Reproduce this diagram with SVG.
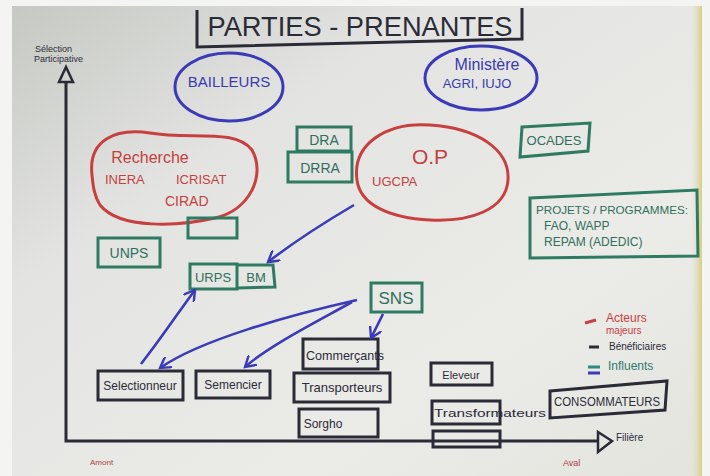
<svg xmlns="http://www.w3.org/2000/svg" width="710" height="476" viewBox="0 0 710 476">
<defs>
<linearGradient id="paper" x1="0" y1="0" x2="1" y2="1">
<stop offset="0" stop-color="#c6c8c4"/>
<stop offset="0.3" stop-color="#e3e4e1"/>
<stop offset="0.7" stop-color="#ebebe8"/>
<stop offset="1" stop-color="#e4e4de"/>
</linearGradient>
<linearGradient id="edge" x1="0" y1="0" x2="1" y2="0">
<stop offset="0" stop-color="#e4e4dc" stop-opacity="0"/>
<stop offset="1" stop-color="#d6ce80"/>
</linearGradient>
<marker id="ah" viewBox="0 0 12 12" refX="10" refY="6" markerWidth="5" markerHeight="5" orient="auto" markerUnits="strokeWidth">
<path d="M0,0 L10,6 L0,12" fill="none" stroke="#3a3ab8" stroke-width="2.2"/>
</marker>
<style>
.blue{fill:none;stroke:#3b3bb8;stroke-width:3}
.red{fill:none;stroke:#c7403f;stroke-width:3}
.green{fill:none;stroke:#2f7a62;stroke-width:3}
.black{fill:none;stroke:#2b2b38;stroke-width:3}
.conn{fill:none;stroke:#3b3bb8;stroke-width:2.6;marker-end:url(#ah)}
text{font-family:"Liberation Sans","DejaVu Sans",sans-serif}
.tb{fill:#3a3ab0}
.tr{fill:#c4403f}
.tg{fill:#2f6f5c}
.tk{fill:#2b2b38}
</style>
</defs>
<rect width="710" height="476" fill="#f4f4f2"/>
<rect x="12" y="6" width="690" height="470" fill="url(#paper)"/>
<rect x="690" y="6" width="12" height="470" fill="url(#edge)"/>

<g id="title">
<path d="M197,10 L197,47 L522,39 L522,8" class="black"/>
<text x="360" y="36" text-anchor="middle" font-size="27" fill="#2b2b38" textLength="305" lengthAdjust="spacingAndGlyphs">PARTIES - PRENANTES</text>
</g>

<g id="axes">
<path d="M66,82 L66,441 L598,441" class="black" stroke-width="2.5"/>
<path d="M59,82 L66,67 L73,82 Z" fill="none" stroke="#2b2b38" stroke-width="2.5"/>
<path d="M598,432 L612,441 L598,452 Z" fill="none" stroke="#2b2b38" stroke-width="2.5"/>
<text x="35" y="52" font-size="9" fill="#2b2b38">Sélection</text>
<text x="34" y="62" font-size="9" fill="#2b2b38">Participative</text>
<text x="616" y="441" font-size="10" fill="#2b2b38">Filière</text>
<text x="90" y="465" font-size="8" fill="#b04040">Amont</text>
<text x="563" y="466" font-size="9" fill="#b04040">Aval</text>
</g>

<g id="bailleurs">
<ellipse cx="229" cy="87" rx="54" ry="34" class="blue"/>
<text x="229" y="87" text-anchor="middle" class="tb" font-size="15">BAILLEURS</text>
</g>

<g id="ministere">
<ellipse cx="481" cy="78" rx="56" ry="32" class="blue"/>
<text x="487" y="70" text-anchor="middle" class="tb" font-size="16">Ministère</text>
<text x="477" y="88" text-anchor="middle" class="tb" font-size="13">AGRI, IUJO</text>
</g>

<g id="recherche">
<path d="M92,175 C88,140 115,128 150,133 C190,140 235,128 252,150 C266,175 250,210 215,218 C180,226 120,230 100,205 C94,196 93,185 92,175 Z" class="red"/>
<text x="150" y="163" class="tr" font-size="16" text-anchor="middle">Recherche</text>
<text x="105" y="184" class="tr" font-size="13">INERA</text>
<text x="176" y="184" class="tr" font-size="13">ICRISAT</text>
<text x="165" y="206" class="tr" font-size="14">CIRAD</text>
</g>

<g id="dra">
<rect x="297" y="127" width="54" height="24" class="green"/>
<text x="324" y="145" text-anchor="middle" class="tg" font-size="14">DRA</text>
</g>
<g id="drra">
<rect x="288" y="152" width="64" height="30" class="green"/>
<text x="320" y="173" text-anchor="middle" class="tg" font-size="14">DRRA</text>
</g>

<g id="op">
<path d="M357,180 C352,145 385,122 430,125 C478,128 510,150 508,180 C506,210 470,222 430,220 C390,218 360,205 357,180 Z" class="red"/>
<text x="430" y="164" text-anchor="middle" class="tr" font-size="21">O.P</text>
<text x="372" y="186" class="tr" font-size="13">UGCPA</text>
</g>

<g id="ocades">
<path d="M522,127 L590,123 L588,151 L520,157 Z" class="green"/>
<text x="554" y="145" text-anchor="middle" class="tg" font-size="13">OCADES</text>
</g>

<g id="projets">
<path d="M530,198 L697,190 L698,256 L530,258 Z" class="green"/>
<text x="536" y="214" class="tg" font-size="11" textLength="152" lengthAdjust="spacingAndGlyphs">PROJETS / PROGRAMMES:</text>
<text x="544" y="230" class="tg" font-size="12">FAO, WAPP</text>
<text x="544" y="246" class="tg" font-size="12">REPAM (ADEDIC)</text>
</g>

<g id="empty-green">
<rect x="188" y="218" width="49" height="20" class="green"/>
</g>

<g id="unps">
<rect x="98" y="238" width="62" height="29" class="green"/>
<text x="129" y="258" text-anchor="middle" class="tg" font-size="14">UNPS</text>
</g>

<g id="urps">
<path d="M190,264 L237,264 L237,289 L190,289 Z M237,265 L273,265 L275,287 L237,288" class="green"/>
<text x="213" y="282" text-anchor="middle" class="tg" font-size="13">URPS</text>
<text x="256" y="282" text-anchor="middle" class="tg" font-size="13">BM</text>
</g>

<g id="sns">
<rect x="371" y="283" width="51" height="29" class="green"/>
<text x="396" y="304" text-anchor="middle" class="tg" font-size="17">SNS</text>
</g>

<g id="selectionneur">
<rect x="98" y="371" width="85" height="29" class="black"/>
<text x="140" y="390" text-anchor="middle" class="tk" font-size="12">Selectionneur</text>
</g>
<g id="semencier">
<rect x="196" y="371" width="74" height="27" class="black"/>
<text x="233" y="389" text-anchor="middle" class="tk" font-size="12">Semencier</text>
</g>
<g id="commercants">
<rect x="303" y="339" width="75" height="30" class="black"/>
<text x="306" y="360" class="tk" font-size="13" textLength="78" lengthAdjust="spacingAndGlyphs">Commerçants</text>
</g>
<g id="transporteurs">
<rect x="294" y="373" width="96" height="29" class="black"/>
<text x="342" y="392" text-anchor="middle" class="tk" font-size="13">Transporteurs</text>
</g>
<g id="sorgho">
<rect x="299" y="409" width="79" height="28" class="black"/>
<text x="323" y="428" text-anchor="middle" class="tk" font-size="12">Sorgho</text>
</g>
<g id="eleveur">
<rect x="431" y="363" width="61" height="22" class="black"/>
<text x="461" y="379" text-anchor="middle" class="tk" font-size="11">Eleveur</text>
</g>
<g id="transformateurs">
<rect x="432" y="401" width="68" height="23" class="black"/>
<text x="434" y="417" class="tk" font-size="11" textLength="112" lengthAdjust="spacingAndGlyphs">Transformateurs</text>
</g>
<g id="empty-black">
<rect x="433" y="431" width="67" height="16" class="black"/>
</g>
<g id="consommateurs">
<path d="M550,391 L667,381 L665,410 L550,418 Z" class="black"/>
<text x="607" y="406" text-anchor="middle" class="tk" font-size="12" textLength="106" lengthAdjust="spacingAndGlyphs">CONSOMMATEURS</text>
</g>

<g id="legend">
<path d="M585,323 L596,320" stroke="#c7403f" stroke-width="3"/>
<text x="606" y="322" fill="#c7403f" font-size="12">Acteurs</text>
<text x="606" y="334" fill="#c7403f" font-size="10">majeurs</text>
<path d="M589,347 L599,347" stroke="#2b2b38" stroke-width="3"/>
<text x="609" y="350" fill="#2b2b38" font-size="10">Bénéficiaires</text>
<path d="M588,367 L600,367" stroke="#2f8a80" stroke-width="3"/>
<path d="M588,373 L600,373" stroke="#3b3bb8" stroke-width="3"/>
<text x="608" y="370" fill="#2f7a70" font-size="12">Influents</text>
</g>

<g id="connectors">
<path d="M354,205 C320,225 290,245 268,262" class="conn"/>
<path d="M383,314 L371,338" class="conn"/>
<path d="M357,300 C290,315 200,340 160,368" class="conn"/>
<path d="M352,302 C320,320 270,345 245,367" class="conn"/>
<path d="M141,364 C160,340 180,310 195,290" class="conn"/>
</g>
</svg>
